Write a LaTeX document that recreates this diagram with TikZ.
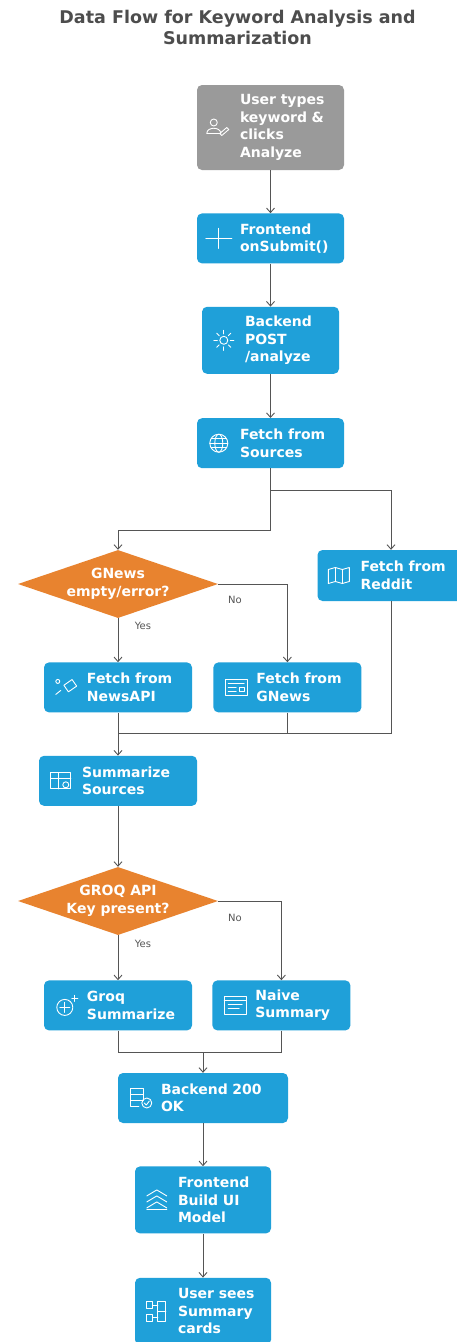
\documentclass[tikz,border=0pt]{standalone}
\usepackage{fontspec}
\setmainfont{DejaVu Sans}
\usetikzlibrary{shapes,arrows.meta,positioning}
\definecolor{flowblue}{HTML}{1FA0D9}
\definecolor{flowgray}{HTML}{9A9A9A}
\definecolor{floworange}{HTML}{E8832F}
\definecolor{wire}{HTML}{555555}
\definecolor{titlegray}{HTML}{4D4D4D}
\newcommand{\padtext}[1]{\leftskip=43pt\relax #1\par}
\tikzstyle{Block} = [rectangle, rounded corners=5pt, fill=flowblue, text=white, align=left, inner xsep=0pt, inner ysep=2pt, minimum height=50pt, font=\fontsize{14}{17.5}\selectfont\bfseries]
\tikzstyle{Start} = [Block, fill=flowgray]
\tikzstyle{Decision} = [diamond, aspect=2.94, fill=floworange, text=white, align=center, inner sep=0pt, minimum width=200pt, minimum height=68pt, font=\fontsize{14}{17.5}\selectfont\bfseries]
\tikzstyle{Arrow} = [draw=wire, line width=0.9pt, -{Straight Barb[length=4.5pt,width=8pt]}]
\tikzstyle{Line} = [draw=wire, line width=0.9pt]
\tikzstyle{Branch} = [text=wire, font=\fontsize{10}{12}\selectfont]
\tikzstyle{Icon} = [draw=white, line width=0.9pt, line cap=round, line join=round]
% small white icons on the left of the boxes
\tikzset{
  Person/.pic={
    \draw[Icon] (-4,-5) circle (3.5);
    \draw[Icon] (-11,6) .. controls (-11,-1) and (3,-1) .. (3,6) -- cycle;
    \draw[Icon] (2,6) -- (9,0) -- (11,2) -- (4,8) -- cycle;
  },
  Cross/.pic={
    \draw[Icon] (-13,0) -- (13,0) (0,-10) -- (0,10);
  },
  Gear/.pic={
    \draw[Icon] (0,0) circle (4);
    \foreach \a in {0,45,...,315} \draw[Icon] (\a:6.5) -- (\a:10);
  },
  Globe/.pic={
    \draw[Icon] (0,0) circle (9);
    \draw[Icon] (0,0) ellipse (4 and 9);
    \draw[Icon] (-9,0) -- (9,0) (-7.5,-4.5) -- (7.5,-4.5) (-7.5,4.5) -- (7.5,4.5);
  },
  Map/.pic={
    \draw[Icon] (-12,-6) -- (-5,-8) -- (2,-6) -- (9,-8) -- (9,6) -- (2,8) -- (-5,6) -- (-12,8) -- cycle;
    \draw[Icon] (-5,-8) -- (-5,6) (2,-6) -- (2,8);
  },
  Satellite/.pic={
    \draw[Icon, rotate=35] (-2,-4) rectangle (8,4);
    \draw[Icon] (-10,-6) circle (2);
    \draw[Icon] (-7,3) -- (-12,7);
  },
  Paper/.pic={
    \draw[Icon] (-11,-8) rectangle (11,8);
    \draw[Icon] (-8,-4) -- (8,-4) (-8,0) -- (0,0) (-8,4) -- (0,4);
    \draw[Icon] (3,0) rectangle (8,4);
  },
  Grid/.pic={
    \draw[Icon] (-11,-8) rectangle (9,8);
    \draw[Icon] (-11,-2) -- (9,-2) (-3,-8) -- (-3,8);
    \draw[Icon] (4,4) circle (3);
  },
  Spark/.pic={
    \draw[Icon] (-2,2) circle (8);
    \draw[Icon] (-7,2) -- (3,2) (-2,-3) -- (-2,7);
    \draw[Icon] (8,-10) -- (8,-4) (5,-7) -- (11,-7);
  },
  Doc/.pic={
    \draw[Icon] (-11,-9) rectangle (11,9);
    \draw[Icon] (-11,-5) -- (11,-5) (-7,-1) -- (7,-1) (-7,3) -- (4,3);
  },
  Server/.pic={
    \draw[Icon] (-10,-10) rectangle (3,-4) (-10,-4) rectangle (3,2);
    \draw[Icon] (-10,2) -- (-10,8) -- (-2,8);
    \draw[Icon] (6,5) circle (5);
    \draw[Icon] (3.5,5) -- (5.5,7) -- (8.5,3);
  },
  Layers/.pic={
    \foreach \dy in {-6,0,6} \draw[Icon] (-10,\dy+2) -- (0,\dy-4) -- (10,\dy+2);
    \draw[Icon] (-10,10) -- (10,10);
  },
  Cards/.pic={
    \draw[Icon] (-10,-10) rectangle (-4,-3) (-10,3) rectangle (-4,10);
    \draw[Icon] (1,-10) rectangle (9,10);
    \draw[Icon] (-4,-6) -- (1,-6) (-4,6) -- (1,6) (1,0) -- (9,0);
  }
}

\begin{document}
\begin{tikzpicture}[x=1pt, y=-1pt]
    \fill[white] (0,0) rectangle (456,1342);
    \useasboundingbox (0,0) rectangle (456,1342);
    \node[font=\fontsize{17.5}{21}\selectfont\bfseries, text=titlegray, align=center] (title) at (237.5,27.5) {Data Flow for Keyword Analysis and\\Summarization};
    % main column
    \node[Start, text width=147pt, minimum height=85pt] (user) at (270.5,127.5) {\padtext{User types\\keyword \&\\clicks\\Analyze}};
    \node[Block, text width=147pt] (frontend) [below=43pt of user] {\padtext{Frontend\\onSubmit()}};
    \node[Block, text width=137pt, minimum height=67pt] (backend) [below=43pt of frontend] {\padtext{Backend\\POST\\/analyze}};
    \node[Block, text width=147pt] (sources) [below=44pt of backend] {\padtext{Fetch from\\Sources}};
    % sources
    \node[Decision] (gnewsq) at (118,584) {GNews\\empty/error?};
    \node[Block, text width=147pt, minimum height=51pt] (reddit) at (391,575.5) {\padtext{Fetch from\\Reddit}};
    \node[Block, text width=148pt] (newsapi) [below=44pt of gnewsq] {\padtext{Fetch from\\NewsAPI}};
    \node[Block, text width=148pt] (gnews) [right=21pt of newsapi] {\padtext{Fetch from\\GNews}};
    \node[Block, text width=158pt] (summarize) [below=43pt of newsapi] {\padtext{Summarize\\Sources}};
    % summary
    \node[Decision] (groqq) at (118,901) {GROQ API\\Key present?};
    \node[Block, text width=148pt] (groq) [below=45pt of groqq] {\padtext{Groq\\Summarize}};
    \node[Block, text width=138pt] (naive) [right=20pt of groq] {\padtext{Naive\\Summary}};
    \node[Block, text width=170pt] (okay) at (203,1098) {\padtext{Backend 200\\OK}};
    \node[Block, text width=136pt, minimum height=67pt] (build) [below=43pt of okay] {\padtext{Frontend\\Build UI\\Model}};
    \node[Block, text width=136pt, minimum height=67pt] (sees) [below=44pt of build] {\padtext{User sees\\Summary\\cards}};
    \node[Branch] (no1)  at (235,600) {No};
    \node[Branch] (yes1) at (143,626) {Yes};
    \node[Branch] (no2)  at (235,918) {No};
    \node[Branch] (yes2) at (143,944) {Yes};
    \coordinate (join1) at (118,733);
    \coordinate (join2) at (203,1052);
    % icons
    \pic at ([xshift=21pt]user.west) {Person};
    \pic at ([xshift=22pt]frontend.west) {Cross};
    \pic at ([xshift=22pt]backend.west) {Gear};
    \pic at ([xshift=22pt]sources.west) {Globe};
    \pic at ([xshift=23pt]reddit.west) {Map};
    \pic at ([xshift=24pt]newsapi.west) {Satellite};
    \pic at ([xshift=23pt]gnews.west) {Paper};
    \pic at ([xshift=23pt]summarize.west) {Grid};
    \pic at ([xshift=23pt]groq.west) {Spark};
    \pic at ([xshift=23pt]naive.west) {Doc};
    \pic at ([xshift=23pt]okay.west) {Server};
    \pic at ([xshift=22pt]build.west) {Layers};
    \pic at ([xshift=22pt]sees.west) {Cards};
    % connectors
    \draw[Arrow] (user) -- (frontend);
    \draw[Arrow] (frontend) -- (backend);
    \draw[Arrow] (backend) -- (sources);
    \draw[Arrow] (sources.south) -- ++(0,22) -| (reddit.north);
    \draw[Arrow] (sources.south) -- ++(0,62) -| (gnewsq.north);
    \draw[Arrow] (gnewsq.south) -- (newsapi.north);
    \draw[Arrow] (gnewsq.east) -| (gnews.north);
    \draw[Line] (gnews.south) |- (join1);
    \draw[Line] (reddit.south) |- (join1);
    \draw[Arrow] (newsapi) -- (summarize);
    \draw[Arrow] (summarize) -- (groqq);
    \draw[Arrow] (groqq.south) -- (groq.north);
    \draw[Arrow] (groqq.east) -| (naive.north);
    \draw[Line] (groq.south) |- (join2);
    \draw[Line] (naive.south) |- (join2);
    \draw[Arrow] (join2) -- (okay);
    \draw[Arrow] (okay) -- (build);
    \draw[Arrow] (build) -- (sees);
\end{tikzpicture}
\end{document}
